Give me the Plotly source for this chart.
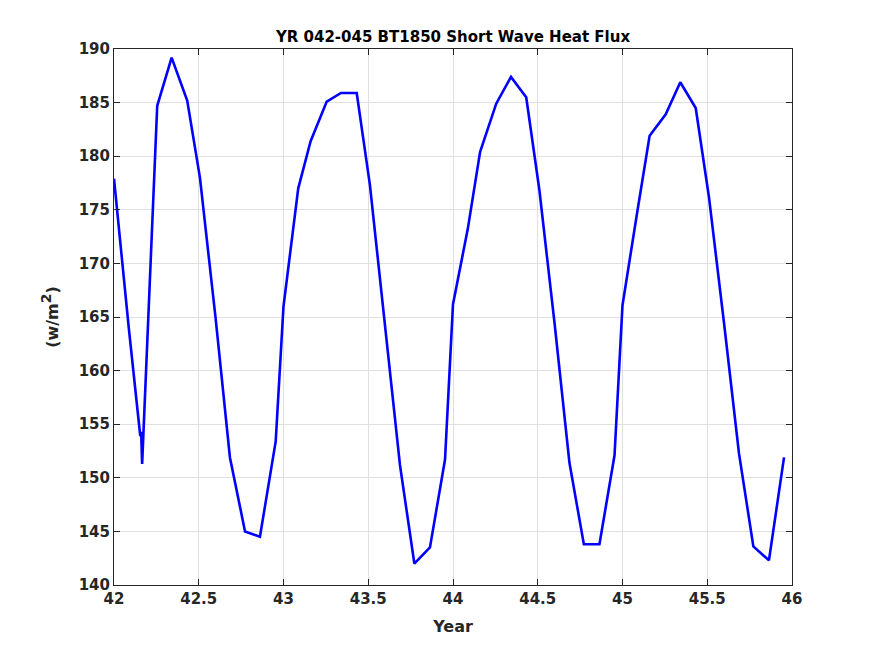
import plotly.graph_objects as go

# decimal year and monthly short wave heat flux (w/m^2)
years = [
    42.000, 42.087, 42.155, 42.160, 42.166, 42.255, 42.340, 42.432, 42.507, 42.600, 42.684, 42.773, 42.861, 42.954,
    43.000, 43.087, 43.160, 43.255, 43.339, 43.432, 43.510, 43.600, 43.687, 43.772, 43.864, 43.953,
    44.000, 44.087, 44.160, 44.255, 44.342, 44.432, 44.510, 44.600, 44.687, 44.772, 44.864, 44.953,
    45.000, 45.087, 45.160, 45.255, 45.341, 45.432, 45.510, 45.600, 45.687, 45.772, 45.864, 45.953,
]
swflux = [
    177.9, 164.0, 153.9, 154.3, 151.3, 184.7, 189.2, 185.2, 178.0, 164.8, 151.9, 145.0, 144.5, 153.4,
    166.0, 177.0, 181.4, 185.1, 185.9, 185.9, 177.3, 164.0, 151.2, 142.0, 143.5, 151.7,
    166.2, 173.2, 180.4, 184.9, 187.4, 185.5, 176.8, 164.3, 151.4, 143.8, 143.8, 152.1,
    166.1, 174.8, 181.9, 183.9, 186.9, 184.5, 176.2, 164.3, 152.3, 143.6, 142.3, 151.9,
]

x_ticks = [42, 42.5, 43, 43.5, 44, 44.5, 45, 45.5, 46]
x_labels = ["42", "42.5", "43", "43.5", "44", "44.5", "45", "45.5", "46"]
y_ticks = [140, 145, 150, 155, 160, 165, 170, 175, 180, 185, 190]

font = "DejaVu Sans"
ink = "#262626"

# page puts the plot 8px in from the corner, so the figure is 8px smaller
W, H = 867, 648

fig = go.Figure()
fig.add_trace(go.Scatter(
    x=years, y=swflux, mode="lines",
    line=dict(color="#0000ff", width=2.6),
    showlegend=False,
))

axis_style = dict(
    showline=True, linecolor=ink, linewidth=1, mirror="ticks",
    ticks="inside", ticklen=6, tickcolor=ink, tickwidth=1,
    showgrid=True, gridcolor="#e0e0e0", gridwidth=1,
    zeroline=False,
    tickfont=dict(family=font, size=15, color=ink, weight="bold"),
)

fig.update_layout(
    width=W, height=H,
    paper_bgcolor="white", plot_bgcolor="white",
    margin=dict(l=106, r=83, t=41, b=71),
    font=dict(family=font, color=ink),
    title=dict(
        text="<b>YR 042-045 BT1850 Short Wave Heat Flux</b>",
        x=0.5, xref="paper", xanchor="center",
        y=1 - 29 / H, yanchor="middle",
        font=dict(family=font, size=15, color="black"),
    ),
    xaxis=dict(
        range=[42, 46], tickvals=x_ticks, ticktext=x_labels,
        title=dict(text="<b>Year</b>", font=dict(family=font, size=16, color=ink), standoff=13),
        **axis_style,
    ),
    yaxis=dict(
        range=[140, 190], tickvals=y_ticks,
        title=dict(text="<b>(w/m<sup><span style='font-size:14px'>2</span></sup>)</b>",
                   font=dict(family=font, size=16, color=ink), standoff=16),
        **axis_style,
    ),
)

fig.write_html("out.html")
